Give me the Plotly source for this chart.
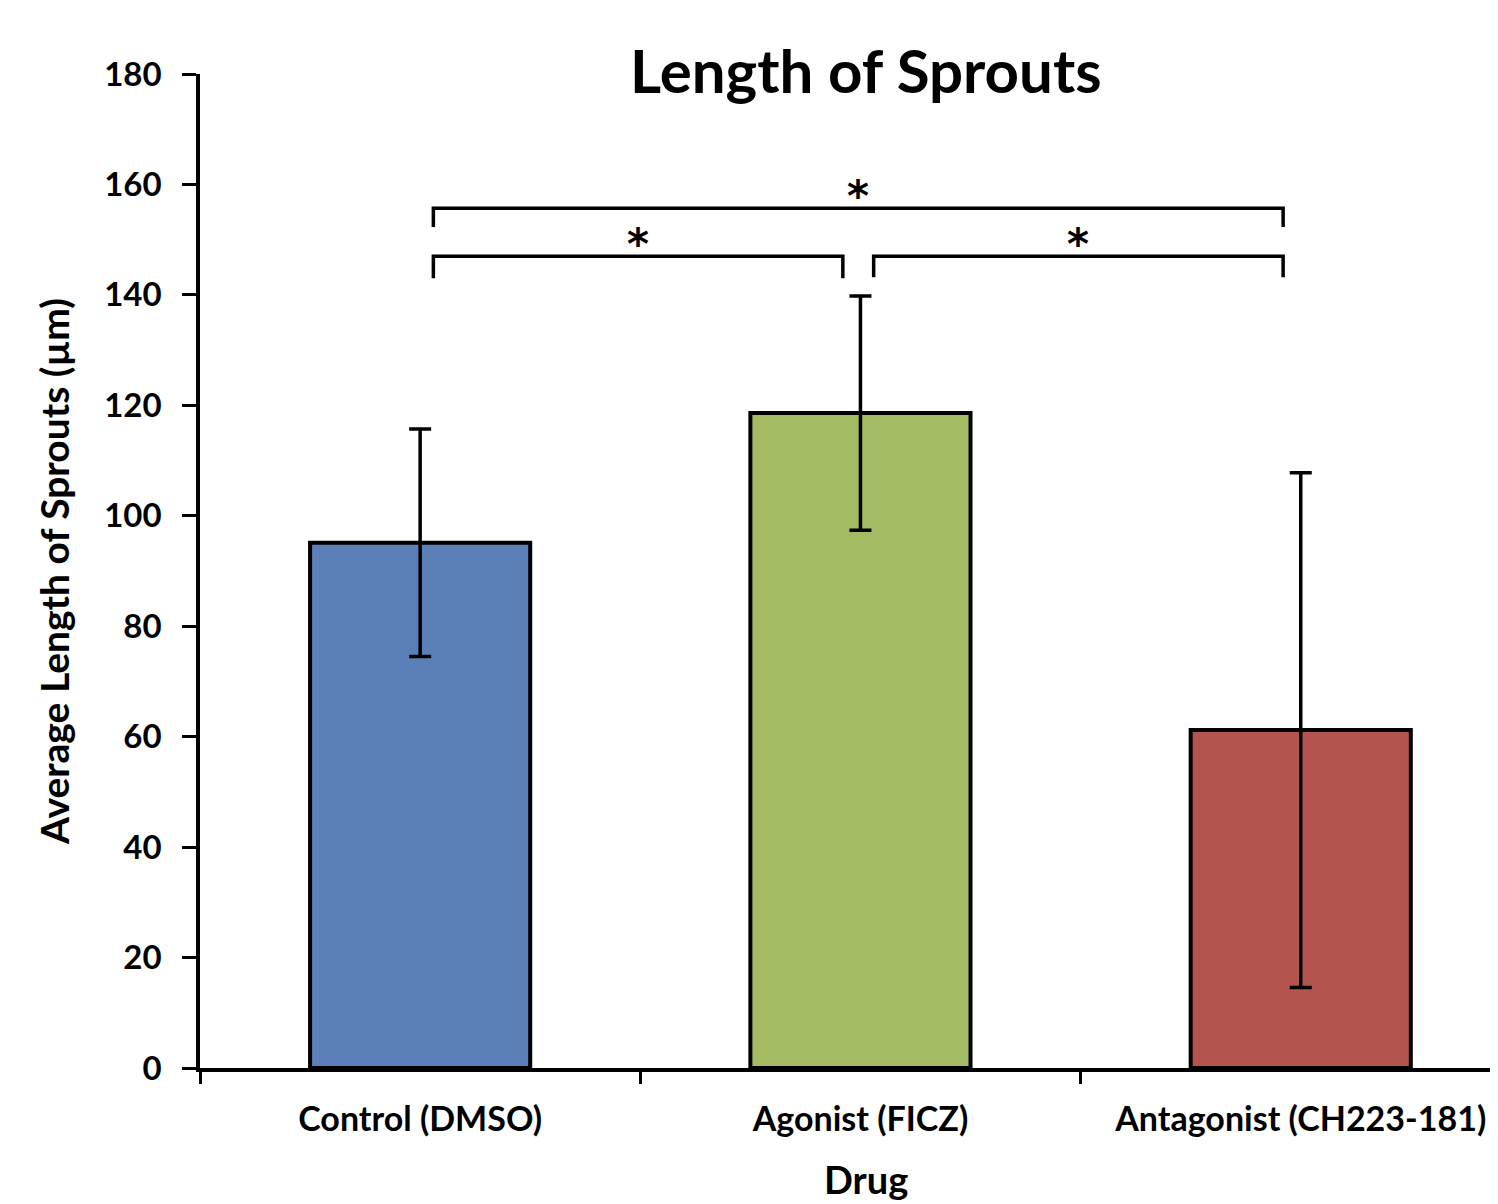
import plotly.graph_objects as go

categories = ["Control (DMSO)", "Agonist (FICZ)", "Antagonist (CH223-181)"]
means = [95.1, 118.6, 61.2]
errors = [20.6, 21.2, 46.6]
bar_colors = ["#5A7FB9", "#A3BC63", "#B4544F"]

# significance brackets: (x_start, x_end, y_bar, y_leg_end, label)
brackets = [
    (0.03, 1.96, 155.7, 152.3, "*"),
    (0.03, 0.96, 147.0, 143.0, "*"),
    (1.03, 1.96, 147.0, 143.2, "*"),
]

FONT = "Lato"

fig = go.Figure()
fig.add_trace(go.Bar(
    x=categories,
    y=means,
    width=0.5,
    marker=dict(color=bar_colors, line=dict(color="black", width=4)),
    error_y=dict(type="data", array=errors, visible=True,
                 color="black", thickness=3.5, width=11),
    showlegend=False,
))

for x0, x1, yb, yl, lab in brackets:
    fig.add_shape(type="path",
                  path=f"M {x0} {yl} L {x0} {yb} L {x1} {yb} L {x1} {yl}",
                  xref="x", yref="y", line=dict(color="black", width=3.5))
    fig.add_annotation(x=(x0 + x1) / 2, y=yb, xref="x", yref="y",
                       text="<b>" + lab + "</b>", showarrow=False,
                       yanchor="middle", yshift=12,
                       font=dict(family="DejaVu Sans", size=42, color="black"))

fig.add_annotation(text="<b>Drug</b>", xref="paper", yref="paper",
                   x=0.513, y=-0.137, yanchor="bottom", showarrow=False,
                   font=dict(family=FONT, size=38, color="black"))

fig.update_layout(
    width=1490, height=1196,
    margin=dict(l=192, r=0, t=66, b=136),
    paper_bgcolor="white", plot_bgcolor="white",
    title=dict(text="<b>Length of Sprouts</b>", x=0.513, xanchor="center",
               xref="paper", y=1 - 64 / 1196, yref="container", yanchor="middle",
               font=dict(family=FONT, size=60, color="black")),
    font=dict(family=FONT, color="black"),
)

fig.update_xaxes(
    type="category", range=[-0.5, 2.448], automargin=False,
    showline=True, linecolor="black", linewidth=3.5,
    ticks="outside", tickson="boundaries", ticklen=12, tickwidth=3, tickcolor="black",
    tickfont=dict(family=FONT, size=34, color="black", weight="bold"),
    ticklabelstandoff=18,
    showgrid=False, zeroline=False,
)
fig.update_yaxes(
    range=[0, 180], dtick=20, automargin=False,
    showline=True, linecolor="black", linewidth=3.5,
    ticks="outside", ticklen=14, tickwidth=3, tickcolor="black",
    tickfont=dict(family=FONT, size=33, color="black", weight="bold"),
    ticklabelstandoff=14,
    showgrid=False, zeroline=False,
    title=dict(text="<b>Average Length of Sprouts (µm)</b>", standoff=24,
               font=dict(family=FONT, size=39, color="black")),
)

fig.write_html("out.html")
